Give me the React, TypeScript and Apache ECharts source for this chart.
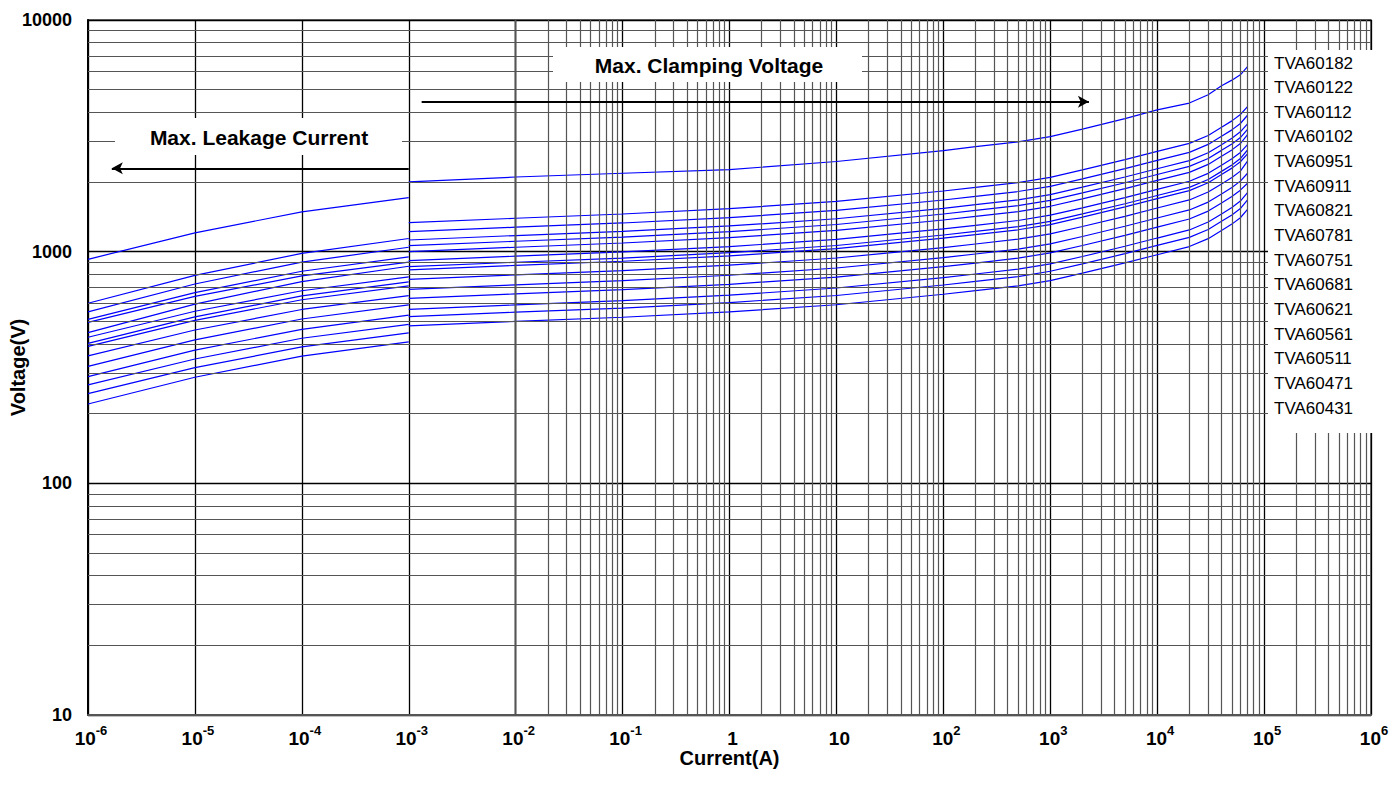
import React, { useEffect, useRef } from 'react';
import * as echarts from 'echarts';

const FONT = '"Liberation Sans", Arial, Helvetica, sans-serif';

const deviceNames = [
  'TVA60182', 'TVA60122', 'TVA60112', 'TVA60102', 'TVA60951',
  'TVA60911', 'TVA60821', 'TVA60781', 'TVA60751', 'TVA60681',
  'TVA60621', 'TVA60561', 'TVA60511', 'TVA60471', 'TVA60431',
];

// Max. leakage current region (A)
const leakageCurrents = [1e-6, 1e-5, 1e-4, 1e-3];
const leakageVoltages = [
  [927, 1205, 1486, 1710],
  [599, 790, 983, 1140],
  [550, 725, 902, 1045],
  [510, 666, 823, 950],
  [495, 641, 786, 902],
  [447, 594, 743, 865],
  [427, 553, 678, 779],
  [402, 523, 644, 741],
  [390, 505, 620, 712],
  [355, 459, 563, 646],
  [320, 416, 512, 589],
  [289, 376, 462, 532],
  [266, 344, 423, 485],
  [244, 316, 388, 446],
  [220, 287, 354, 408],
];

// Max. clamping voltage region (A)
const clampCurrents = [1e-3, 1e-2, 1e-1, 1, 10, 100, 200, 500, 1e3, 2e3, 5e3, 1e4, 2e4, 3e4, 4e4, 5e4, 6e4, 7e4];
const clampVoltages = [
  [2000, 2100, 2180, 2260, 2450, 2730, 2840, 2980, 3140, 3380, 3750, 4090, 4380, 4760, 5200, 5500, 5800, 6290],
  [1334, 1394, 1454, 1534, 1647, 1828, 1894, 1988, 2094, 2254, 2495, 2708, 2935, 3175, 3442, 3669, 3909, 4225],
  [1220, 1275, 1330, 1403, 1507, 1671, 1732, 1818, 1915, 2062, 2281, 2477, 2684, 2904, 3148, 3355, 3575, 3880],
  [1123, 1174, 1224, 1291, 1387, 1539, 1595, 1673, 1763, 1898, 2100, 2280, 2471, 2673, 2897, 3088, 3290, 3560],
  [1061, 1109, 1156, 1220, 1310, 1454, 1507, 1581, 1666, 1793, 1984, 2154, 2334, 2525, 2737, 2918, 3109, 3375],
  [1000, 1045, 1090, 1150, 1235, 1370, 1420, 1490, 1570, 1690, 1870, 2030, 2200, 2380, 2580, 2750, 2930, 3200],
  [915, 956, 997, 1052, 1130, 1254, 1299, 1363, 1437, 1546, 1711, 1857, 2013, 2178, 2361, 2516, 2681, 2900],
  [861, 900, 938, 990, 1063, 1180, 1223, 1283, 1352, 1455, 1610, 1748, 1894, 2049, 2221, 2368, 2523, 2747],
  [834, 872, 909, 959, 1030, 1143, 1184, 1243, 1309, 1409, 1560, 1693, 1835, 1985, 2152, 2294, 2444, 2641],
  [760, 794, 828, 874, 939, 1041, 1079, 1132, 1193, 1284, 1421, 1543, 1672, 1809, 1961, 2090, 2227, 2460],
  [688, 719, 750, 791, 850, 943, 977, 1025, 1080, 1163, 1287, 1397, 1514, 1637, 1775, 1892, 2016, 2180],
  [629, 657, 686, 723, 777, 862, 893, 937, 988, 1063, 1176, 1277, 1384, 1497, 1623, 1730, 1843, 1974],
  [564, 589, 615, 649, 697, 773, 801, 840, 885, 953, 1055, 1145, 1241, 1342, 1455, 1551, 1653, 1797],
  [524, 548, 571, 603, 647, 718, 744, 781, 823, 886, 980, 1064, 1153, 1247, 1352, 1441, 1535, 1672],
  [478, 500, 521, 550, 590, 655, 679, 712, 750, 808, 894, 970, 1052, 1138, 1233, 1315, 1401, 1524],
];

// Axis ranges and grid subdivisions
const xMin = 1e-6;
const xMax = 1e6;
const yMin = 10;
const yMax = 10000;
const minorMultipliers = [2, 3, 4, 5, 6, 7, 8, 9];
const xDecadeExponents = [-6, -5, -4, -3, -2, -1, 0, 1, 2, 3, 4, 5];
const yDecadeExponents = [1, 2, 3];

// Annotation arrows (data coordinates)
const leakageArrow = { fromI: 1e-3, toI: 1.67e-6, v: 2290 };
const clampArrow = { fromI: 1.32e-3, toI: 2300, v: 4440 };

const annotationLeakage = 'Max. Leakage Current';
const annotationClamp = 'Max. Clamping Voltage';

export default function App() {
  const ref = useRef<HTMLDivElement>(null);

  useEffect(() => {
    if (!ref.current) return;
    const chart = echarts.init(ref.current, null, { renderer: 'svg' });

    const xMinor: number[] = [];
    xDecadeExponents.forEach((e) => minorMultipliers.forEach((m) => xMinor.push(m * Math.pow(10, e))));
    const yMinor: number[] = [];
    yDecadeExponents.forEach((e) => minorMultipliers.forEach((m) => yMinor.push(m * Math.pow(10, e))));

    const curveStyle = { color: '#0000ff', width: 1.2 };

    const series: any[] = [
      {
        type: 'line',
        data: [],
        z: 1,
        silent: true,
        markLine: {
          silent: true,
          symbol: 'none',
          label: { show: false },
          lineStyle: { color: '#555', width: 1.2, type: 'solid' },
          emphasis: { disabled: true },
          data: [
            ...xMinor.map((v) => ({ xAxis: v })),
            ...yMinor.map((v) => ({ yAxis: v })),
          ],
        },
      },
    ];

    deviceNames.forEach((name, i) => {
      series.push({
        name,
        type: 'line',
        z: 3,
        showSymbol: false,
        symbol: 'none',
        lineStyle: curveStyle,
        itemStyle: { color: '#0000ff' },
        data: leakageCurrents.map((c, k) => [c, leakageVoltages[i][k]]),
      });
      series.push({
        name,
        type: 'line',
        z: 3,
        showSymbol: false,
        symbol: 'none',
        lineStyle: curveStyle,
        itemStyle: { color: '#0000ff' },
        data: clampCurrents.map((c, k) => [c, clampVoltages[i][k]]),
      });
    });

    series.push({
      type: 'line',
      data: [],
      z: 5,
      silent: true,
      markLine: {
        silent: true,
        symbol: ['none', 'arrow'],
        symbolSize: [9, 11],
        label: { show: false },
        lineStyle: { color: '#000', width: 2, type: 'solid' },
        emphasis: { disabled: true },
        data: [
          [{ coord: [leakageArrow.fromI, leakageArrow.v] }, { coord: [leakageArrow.toI, leakageArrow.v] }],
          [{ coord: [clampArrow.fromI, clampArrow.v] }, { coord: [clampArrow.toI, clampArrow.v] }],
        ],
      },
    });

    const legendTop = 63;
    const legendStep = 24.65;

    const graphic: any[] = [
      {
        type: 'rect', z: 100, silent: true,
        shape: { x: 115, y: 118, width: 287, height: 37 },
        style: { fill: '#fff' },
      },
      {
        type: 'text', z: 101, silent: true,
        x: 259, y: 137,
        style: {
          text: annotationLeakage, fill: '#000', font: `bold 21px ${FONT}`,
          align: 'center', verticalAlign: 'middle',
        },
      },
      {
        type: 'rect', z: 100, silent: true,
        shape: { x: 553, y: 47, width: 309, height: 35 },
        style: { fill: '#fff' },
      },
      {
        type: 'text', z: 101, silent: true,
        x: 709, y: 65,
        style: {
          text: annotationClamp, fill: '#000', font: `bold 21px ${FONT}`,
          align: 'center', verticalAlign: 'middle',
        },
      },
      {
        type: 'rect', z: 100, silent: true,
        shape: { x: 1268, y: 50, width: 121, height: 383 },
        style: { fill: '#fff' },
      },
      ...deviceNames.map((n, i) => ({
        type: 'text', z: 101, silent: true,
        x: 1274, y: legendTop + i * legendStep,
        style: {
          text: n, fill: '#000', font: `17px ${FONT}`,
          align: 'left', verticalAlign: 'middle',
        },
      })),
    ];

    const option: any = {
      animation: false,
      backgroundColor: '#fff',
      textStyle: { fontFamily: FONT },
      grid: {
        left: 88, right: 18, top: 20, bottom: 75,
        containLabel: false,
        outerBoundsMode: 'none',
        show: true, borderColor: '#444', borderWidth: 1.5, backgroundColor: '#fff',
      },
      xAxis: {
        type: 'log',
        logBase: 10,
        min: xMin,
        max: xMax,
        splitNumber: 12,
        interval: 1,
        name: 'Current(A)',
        nameLocation: 'middle',
        nameGap: 33,
        nameMoveOverlap: false,
        nameTextStyle: { fontSize: 20, fontWeight: 'bold', color: '#000', fontFamily: FONT },
        axisLine: { show: true, lineStyle: { color: '#555', width: 2 } },
        axisTick: { show: false },
        splitLine: { show: true, lineStyle: { color: '#000', width: 1.3 } },
        axisLabel: {
          margin: 9,
          padding: [0, 0, 0, 6],
          color: '#000',
          formatter: (v: number) => {
            const e = Math.round(Math.log10(v));
            if (e === 0) return '{b|1}';
            if (e === 1) return '{b|10}';
            return `{b|10}{s|${e}}`;
          },
          rich: {
            b: { fontSize: 19, fontWeight: 'bold', fontFamily: FONT, color: '#000', lineHeight: 24, verticalAlign: 'bottom' },
            s: { fontSize: 13, fontWeight: 'bold', fontFamily: FONT, color: '#000', lineHeight: 12, verticalAlign: 'top' },
          },
        },
      },
      yAxis: {
        type: 'log',
        logBase: 10,
        min: yMin,
        max: yMax,
        name: 'Voltage(V)',
        nameLocation: 'middle',
        nameGap: 60,
        nameMoveOverlap: false,
        nameTextStyle: { fontSize: 20, fontWeight: 'bold', color: '#000', fontFamily: FONT },
        axisLine: { show: true, lineStyle: { color: '#000', width: 2 } },
        axisTick: { show: false },
        splitLine: { show: true, lineStyle: { color: '#000', width: 1.3 } },
        axisLabel: {
          margin: 16,
          color: '#000',
          fontSize: 18,
          fontWeight: 'bold',
          fontFamily: FONT,
          formatter: (v: number) => String(Math.round(v)),
        },
      },
      series,
      graphic,
    };

    chart.setOption(option);
    return () => chart.dispose();
  }, []);

  return (
    <div
      ref={ref}
      style={{ position: 'fixed', left: 0, top: 0, width: 1389, height: 790, background: '#fff' }}
    />
  );
}
